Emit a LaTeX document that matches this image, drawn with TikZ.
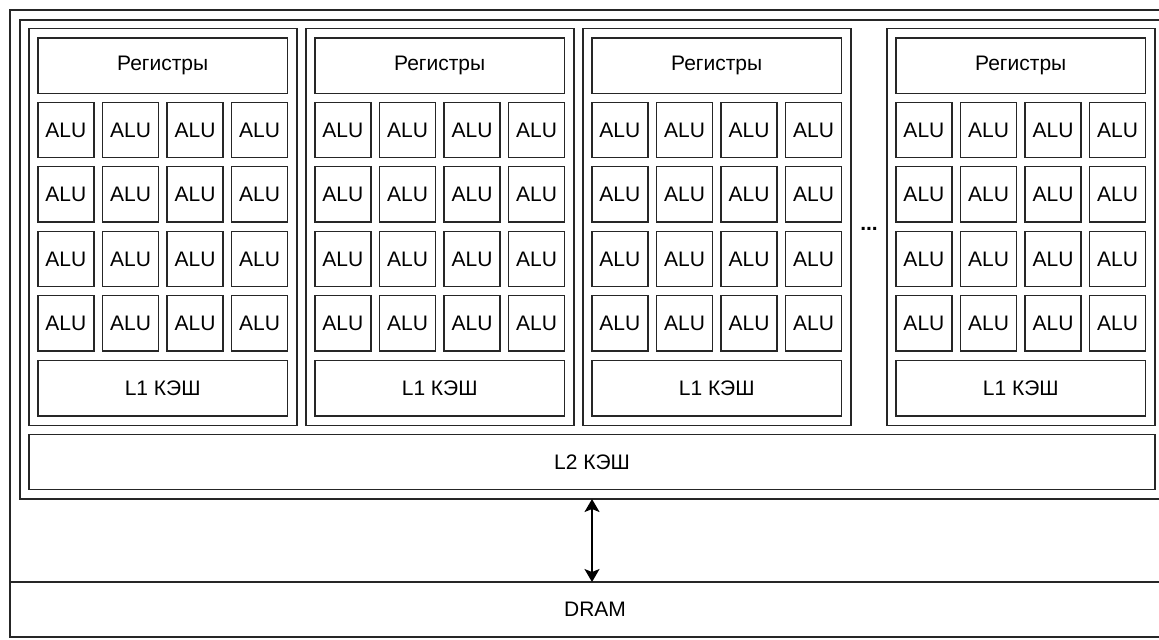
\documentclass[tikz,border=0pt]{standalone}
\usepackage{fontspec}
\setmainfont{Liberation Sans}
\usetikzlibrary{arrows.meta,calc}
\begin{document}
\begin{tikzpicture}[x=0.5pt,y=-0.5pt,
  frame/.style={draw=black!85,line width=0.6pt,inner sep=0pt,outer sep=0pt,
    font=\fontsize{10.5pt}{12pt}\selectfont},
  alu/.style={frame,minimum width=28pt,minimum height=27.6pt},
  wide/.style={frame,minimum width=124.8pt,minimum height=27.6pt},
  block/.style={frame,minimum width=134pt,minimum height=198.2pt},
  link/.style={draw=black,line width=0.8pt,{Stealth[length=6.5pt,width=7.5pt,inset=1.5pt]}-{Stealth[length=6.5pt,width=7.5pt,inset=1.5pt]}}]
\useasboundingbox (0,0) rectangle (1159,639);
\clip (0,0) rectangle (1159,639);
% outer frame and GPU frame (extend beyond right edge)
\node[frame,anchor=north west,minimum width=580pt,minimum height=313.5pt] (outer) at (10,10) {};
\node[frame,anchor=north west,minimum width=575pt,minimum height=239.5pt] (gpu) at (20,20) {};
% L2 cache
\node[frame,anchor=north west,minimum width=563pt,minimum height=27.6pt] (l2) at (29,434.3) {L2 КЭШ};
% DRAM
\node[frame,anchor=north west,minimum width=585pt,minimum height=27.6pt] (dram) at (10,582) {DRAM};
% SM blocks
\foreach \b/\bx in {1/29,2/306,3/583,4/887}{
  \node[block,anchor=north west] (sm\b) at (\bx,28.7) {};
  \node[wide,anchor=north west] (reg\b) at (\bx+8.9,38) {Регистры};
  \foreach \r/\ry in {1/102.3,2/166.8,3/231.3,4/295.8}{
    \foreach \c/\cx in {1/8.9,2/73.5,3/138,4/202.5}{
      \node[alu,anchor=north west] (alu\b-\r-\c) at (\bx+\cx,\ry) {ALU};
    }
  }
  \node[wide,anchor=north west] (lone\b) at (\bx+8.9,360.7) {L1 КЭШ};
}
\node[font=\fontsize{10.5pt}{12pt}\selectfont\bfseries] (dots) at (869,229) {...};
% link between L2 region and DRAM
\draw[link] (l2.center |- gpu.south) -- (l2.center |- dram.north);
\end{tikzpicture}
\end{document}
